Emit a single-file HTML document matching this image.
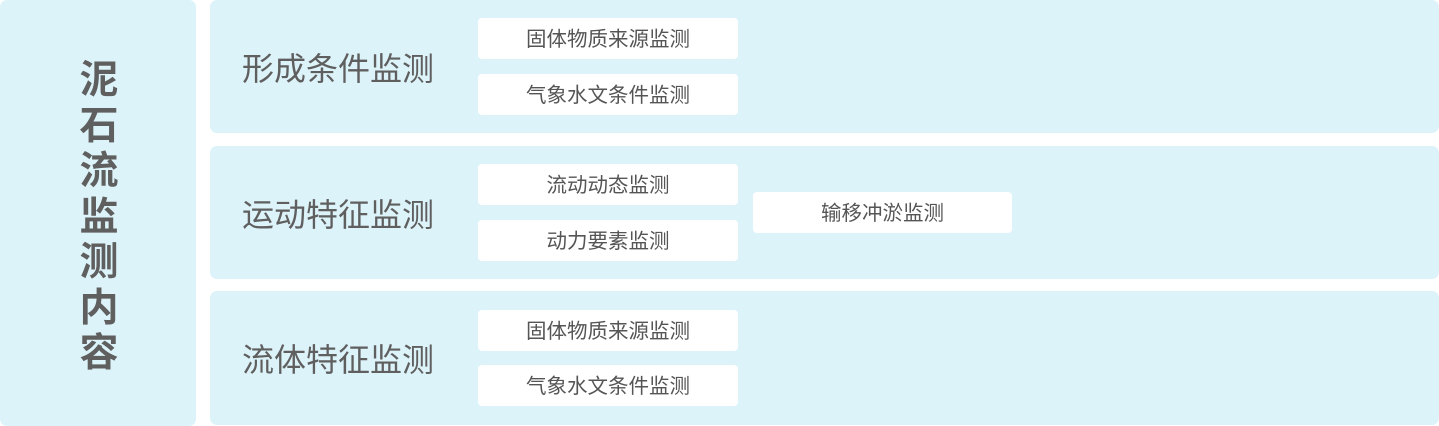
<!DOCTYPE html>
<html><head><meta charset="utf-8"><style>
body{margin:0;width:1439px;height:426px;background:#fff;position:relative;overflow:hidden;font-family:"Liberation Sans","Noto Sans CJK SC",sans-serif;color:#5f5f5f}
.p{position:absolute;background:#ddf3fa;border-radius:7px}
.b{position:absolute;background:#fff;border-radius:4px;width:260px;height:41px;line-height:44px;text-align:center;font-size:20.5px;color:#555}
.h{position:absolute;left:242px;font-size:32px;line-height:44px;color:#5f5f5f}
.t{position:absolute;left:76px;top:58px;width:46px;font-size:39px;font-weight:bold;line-height:45.5px;text-align:center;color:#5f5f5f}
</style></head><body>
<div class="p" style="left:0;top:0;width:196px;height:426px"></div>
<div class="t">泥<br>石<br>流<br>监<br>测<br>内<br>容</div>
<div class="p" style="left:210px;top:0;width:1229px;height:133px"></div>
<div class="p" style="left:210px;top:146px;width:1229px;height:133px"></div>
<div class="p" style="left:210px;top:291px;width:1229px;height:134px"></div>
<div class="h" style="top:47px">形成条件监测</div>
<div class="h" style="top:193px">运动特征监测</div>
<div class="h" style="top:338px">流体特征监测</div>
<div class="b" style="left:478px;top:18px">固体物质来源监测</div>
<div class="b" style="left:478px;top:74px">气象水文条件监测</div>
<div class="b" style="left:478px;top:164px">流动动态监测</div>
<div class="b" style="left:478px;top:220px">动力要素监测</div>
<div class="b" style="left:753px;top:192px;width:259px">输移冲淤监测</div>
<div class="b" style="left:478px;top:310px">固体物质来源监测</div>
<div class="b" style="left:478px;top:365px">气象水文条件监测</div>
</body></html>
